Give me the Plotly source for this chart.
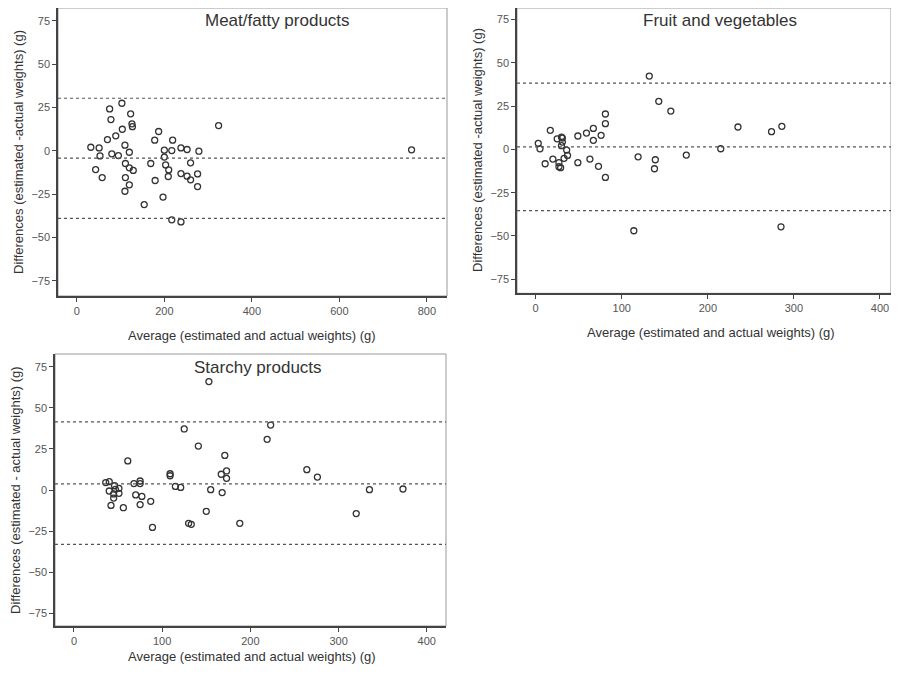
import plotly.graph_objects as go

# ---- Data: Meat/fatty products ----
meat_avg = [75, 103, 123, 78, 126, 127, 104, 187, 89, 70, 178, 219, 110, 32, 51,
            120, 200, 217, 238, 252, 279, 53, 80, 95, 200, 111, 169, 203, 260, 120,
            129, 210, 43, 58, 111, 209, 238, 252, 260, 276, 276, 179, 120, 110, 197,
            154, 217, 238, 324, 765]
meat_diff = [24.2, 27.5, 21.4, 18.1, 15.6, 14.0, 12.5, 11.2, 8.7, 6.5, 6.2, 6.2, 3.3, 2.1, 1.7,
             -0.8, 0.4, 0.2, 1.7, 0.8, -0.2, -2.9, -1.7, -2.7, -3.6, -7.3, -7.3, -8.1, -6.9, -9.8,
             -11.3, -11.0, -10.8, -15.4, -15.4, -14.8, -13.1, -14.6, -16.7, -13.3, -20.6, -17.1, -19.6, -23.3, -26.7,
             -31.0, -39.8, -41.0, 14.6, 0.6]
meat_limits = [30.4, -4.2, -39.0]

# ---- Data: Fruit and vegetables ----
fruit_avg = [132, 143, 157, 81, 81, 17, 67, 59, 49, 76, 67, 25, 30, 31, 31, 30, 3, 5,
             36, 37, 33, 20, 11, 27, 27, 29, 49, 63, 73, 81, 119, 139, 138, 175,
             215, 235, 274, 286, 285, 114]
fruit_diff = [42.3, 27.7, 22.1, 20.4, 14.8, 11.0, 12.1, 9.4, 7.7, 8.1, 5.2, 6.1, 7.1, 6.5, 4.2, 2.1, 3.5, 0.3,
              -0.4, -3.5, -5.2, -5.6, -8.3, -7.7, -10.0, -10.6, -7.7, -5.6, -9.8, -16.2, -4.3, -6.0, -11.2, -3.3,
              0.35, 12.9, 10.2, 13.3, -44.7, -47.0]
fruit_limits = [38.2, 1.4, -35.4]

# ---- Data: Starchy products ----
starch_avg = [153, 125, 141, 171, 61, 167, 173, 173, 109, 109, 115, 121, 36, 40, 46, 40, 47, 51,
              51, 45, 45, 68, 75, 75, 70, 77, 87, 75, 42, 56, 89, 155, 168, 150, 130, 133, 188,
              223, 219, 264, 276, 335, 373, 320]
starch_diff = [66.1, 37.2, 26.8, 21.1, 17.7, 9.6, 11.6, 7.1, 9.9, 8.7, 2.2, 1.6, 4.5, 5.1, 2.6, -0.6, 0.4, 1.0,
               -2.0, -2.4, -4.9, 3.9, 5.5, 3.9, -3.0, -3.9, -6.9, -8.9, -9.4, -10.8, -22.8, 0.2, -1.6, -13.0, -20.3, -20.9, -20.3,
               39.6, 30.9, 12.4, 7.9, 0.2, 0.6, -14.4]
starch_limits = [41.5, 3.7, -33.2]

y_ticks = [-75, -50, -25, 0, 25, 50, 75]
x_ticks_meat = [0, 200, 400, 600, 800]
x_ticks_other = [0, 100, 200, 300, 400]

OFF = 8  # page body margin
W, H = 899 - 2 * OFF, 674 - 2 * OFF


def dom_x(a, b):
    return [(a - OFF) / W, min((b - OFF) / W, 1.0)]


def dom_y(top, bottom):
    return [1 - (bottom - OFF) / H, min(1 - (top - OFF) / H, 1.0)]


def px(v):
    return (v - OFF) / W


def py(v):
    return 1 - (v - OFF) / H


panels = [
    dict(name="Meat/fatty products", x=meat_avg, y=meat_diff, lim=meat_limits,
         xd=dom_x(58, 447), yd=dom_y(8, 296), xr=[-43, 846], yr=[-83.8, 82.5], xt=x_ticks_meat,
         ytitle="Differences (estimated -actual weights) (g)", ytx=18, yty=152, ttx=277, tty=21,
         xtx=252, xty=335),
    dict(name="Fruit and vegetables", x=fruit_avg, y=fruit_diff, lim=fruit_limits,
         xd=dom_x(517, 898), yd=dom_y(8, 293.3), xr=[-21.7, 412.8], yr=[-83.1, 81.6], xt=x_ticks_other,
         ytitle="Differences (estimated -actual weights) (g)", ytx=478, yty=150, ttx=720, tty=21,
         xtx=711, xty=332),
    dict(name="Starchy products", x=starch_avg, y=starch_diff, lim=starch_limits,
         xd=dom_x(55, 446), yd=dom_y(354, 626), xr=[-21.5, 421.8], yr=[-82.9, 82.9], xt=x_ticks_other,
         ytitle="Differences (estimated - actual weights) (g)", ytx=15, yty=490, ttx=258, tty=367,
         xtx=252, xty=656),
]

fig = go.Figure()
font_fam = "Liberation Sans, Arial, sans-serif"
annotations = []
shapes = []
layout = {}

for i, p in enumerate(panels, start=1):
    xa = "x" if i == 1 else f"x{i}"
    ya = "y" if i == 1 else f"y{i}"
    fig.add_trace(go.Scatter(
        x=p["x"], y=p["y"], mode="markers", xaxis=xa, yaxis=ya, showlegend=False,
        marker=dict(symbol="circle-open", size=6, color="#333333", line=dict(width=1.3, color="#333333")),
    ))
    axis_common = dict(showgrid=False, zeroline=False, ticks="outside", ticklen=4, tickwidth=1,
                       tickcolor="#444", showline=True, linecolor="#444", linewidth=1.5,
                       tickfont=dict(family=font_fam, size=11, color="#555"))
    layout[f"xaxis{'' if i == 1 else i}"] = dict(domain=p["xd"], range=p["xr"], anchor=ya,
                                                 tickvals=p["xt"], **axis_common)
    layout[f"yaxis{'' if i == 1 else i}"] = dict(domain=p["yd"], range=p["yr"], anchor=xa,
                                                 tickvals=y_ticks, **axis_common)
    # frame
    shapes.append(dict(type="rect", xref=f"{xa} domain", yref=f"{ya} domain", x0=0, x1=1, y0=0, y1=1,
                       line=dict(color="#999", width=1), layer="below"))
    # limit lines
    for v in p["lim"]:
        shapes.append(dict(type="line", xref=f"{xa} domain", yref=ya, x0=0, x1=1, y0=v, y1=v,
                           line=dict(color="#555", width=1.2, dash="dot")))
    # panel title
    annotations.append(dict(text=p["name"], xref="paper", yref="paper",
                            x=px(p["ttx"]), y=py(p["tty"]), xanchor="center", yanchor="middle",
                            showarrow=False, font=dict(family=font_fam, size=17, color="#333")))
    # y title
    annotations.append(dict(text=p["ytitle"], xref="paper", yref="paper", x=px(p["ytx"]), y=py(p["yty"]),
                            xanchor="center", yanchor="middle", textangle=-90, showarrow=False,
                            font=dict(family=font_fam, size=13, color="#333")))
    # x title
    annotations.append(dict(text="Average (estimated and actual weights) (g)", xref="paper", yref="paper",
                            x=px(p["xtx"]), y=py(p["xty"]), xanchor="center", yanchor="middle",
                            showarrow=False, font=dict(family=font_fam, size=13, color="#333")))

fig.update_layout(width=W, height=H, margin=dict(l=0, r=0, t=0, b=0),
                  paper_bgcolor="white", plot_bgcolor="white",
                  annotations=annotations, shapes=shapes, **layout)

fig.write_html("out.html")
